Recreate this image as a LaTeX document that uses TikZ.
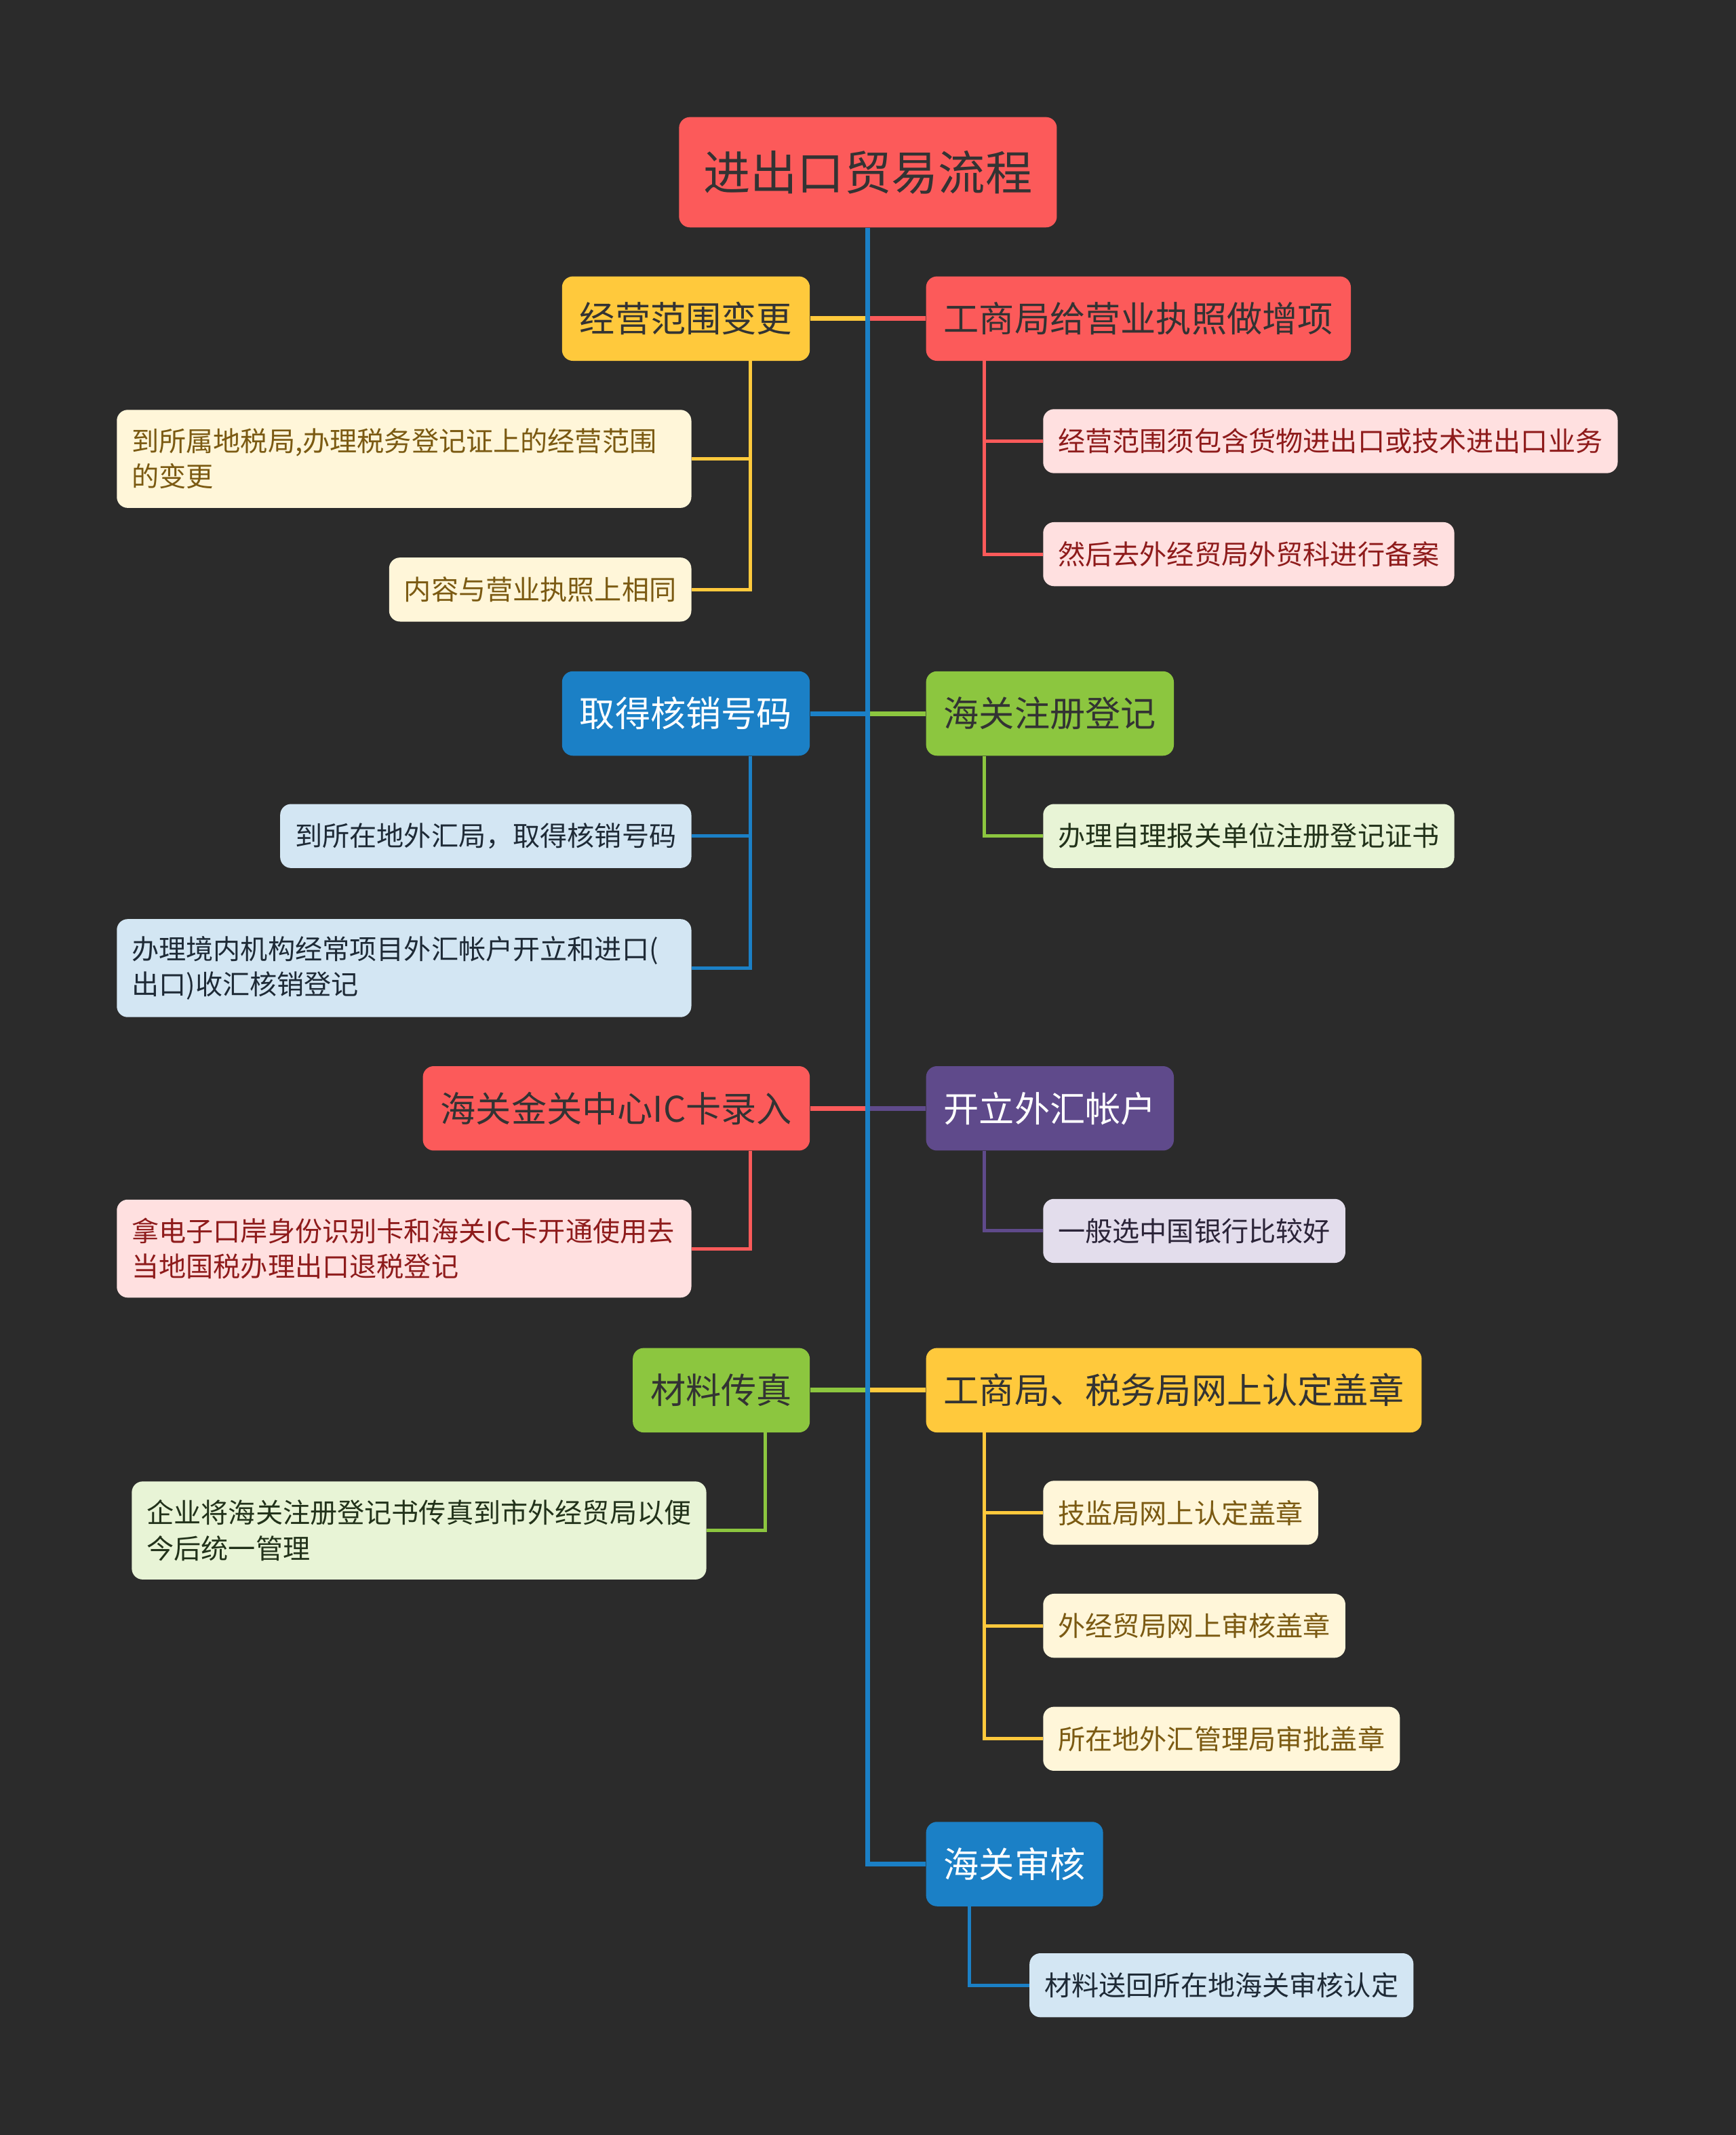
\documentclass[tikz,border=0pt]{standalone}
\usepackage{fontspec}
\setmainfont{Noto Sans CJK SC}
\usepackage{xcolor}
\usetikzlibrary{positioning}
\definecolor{bg}{HTML}{2B2B2B}
\definecolor{ink}{HTML}{333333}
\definecolor{tred}{HTML}{FC5A5A}
\definecolor{tyellow}{HTML}{FFC93C}
\definecolor{tblue}{HTML}{1B80C6}
\definecolor{tgreen}{HTML}{8CC63F}
\definecolor{tpurple}{HTML}{5F4A8B}
\definecolor{lred}{HTML}{FFE0E0}
\definecolor{lyellow}{HTML}{FFF6D9}
\definecolor{lblue}{HTML}{D3E6F3}
\definecolor{lgreen}{HTML}{E8F4D6}
\definecolor{lpurple}{HTML}{E3DDEC}
\definecolor{dred}{HTML}{8E1B1B}
\definecolor{dyellow}{HTML}{7B5A12}
\definecolor{dblue}{HTML}{1E2A36}
\definecolor{dgreen}{HTML}{22321A}
\definecolor{dpurple}{HTML}{2B2438}

\begin{document}
\begin{tikzpicture}[x=1pt, y=-1pt,
  base/.style={rounded corners=8pt, align=left, inner ysep=0pt},
  rootbox/.style={base, fill=tred, text=ink, font=\fontsize{34.5}{40}\selectfont,
                  minimum height=81pt, inner xsep=18pt},
  topic/.style={base, font=\fontsize{26}{30}\selectfont, minimum height=62pt, inner xsep=13pt},
  leaf/.style={base, font=\fontsize{20}{26}\selectfont, minimum height=47pt, inner xsep=11pt},
  wide/.style={leaf, text width=400pt, minimum height=72pt},
  red1/.style={topic, fill=tred, text=ink},
  ylw1/.style={topic, fill=tyellow, text=ink},
  blu1/.style={topic, fill=tblue, text=white},
  grn1/.style={topic, fill=tgreen, text=ink},
  pur1/.style={topic, fill=tpurple, text=white},
  red2/.style={fill=lred, text=dred},
  ylw2/.style={fill=lyellow, text=dyellow},
  blu2/.style={fill=lblue, text=dblue},
  grn2/.style={fill=lgreen, text=dgreen},
  pur2/.style={fill=lpurple, text=dpurple},
  trunk/.style={line width=3.5pt},
  link/.style={line width=2.5pt}
]
\path[use as bounding box, fill=bg] (0,0) rectangle (1275,1568);

% root and main topics
\node[rootbox] (root) at (637.5,126.5) {进出口贸易流程};
\node[ylw1, anchor=east] (jy) at (595,234)  {经营范围变更};
\node[red1, anchor=west] (gs) at (680,234)  {工商局给营业执照做增项};
\node[blu1, anchor=east] (hx) at (595,524)  {取得核销号码};
\node[grn1, anchor=west] (zc) at (680,524)  {海关注册登记};
\node[red1, anchor=east] (ic) at (595,814)  {海关金关中心IC卡录入};
\node[pur1, anchor=west] (wh) at (680,814)  {开立外汇帐户};
\node[grn1, anchor=east] (cz) at (595,1021) {材料传真};
\node[ylw1, anchor=west] (gz) at (680,1021) {工商局、税务局网上认定盖章};
\node[blu1, anchor=west] (sh) at (680,1369) {海关审核};

% details
\node[wide, ylw2, anchor=east] (jy1) at (508,337) {到所属地税局,办理税务登记证上的经营范围\\的变更};
\node[leaf, ylw2, anchor=east] (jy2) at (508,433) {内容与营业执照上相同};
\node[leaf, red2, anchor=west] (gs1) at (766,324) {经营范围须包含货物进出口或技术进出口业务};
\node[leaf, red2, anchor=west] (gs2) at (766,407) {然后去外经贸局外贸科进行备案};
\node[leaf, blu2, anchor=east] (hx1) at (508,614) {到所在地外汇局，取得核销号码};
\node[wide, blu2, anchor=east] (hx2) at (508,711) {办理境内机构经常项目外汇帐户开立和进口(\\出口)收汇核销登记};
\node[leaf, grn2, anchor=west] (zc1) at (766,614) {办理自理报关单位注册登记证书};
\node[wide, red2, anchor=east] (ic1) at (508,917) {拿电子口岸身份识别卡和海关IC卡开通使用去\\当地国税办理出口退税登记};
\node[leaf, pur2, anchor=west] (wh1) at (766,904) {一般选中国银行比较好};
\node[wide, grn2, anchor=east] (cz1) at (519,1124) {企业将海关注册登记书传真到市外经贸局以便\\今后统一管理};
\node[leaf, ylw2, anchor=west] (gz1) at (766,1111) {技监局网上认定盖章};
\node[leaf, ylw2, anchor=west] (gz2) at (766,1194) {外经贸局网上审核盖章};
\node[leaf, ylw2, anchor=west] (gz3) at (766,1277) {所在地外汇管理局审批盖章};
\node[leaf, blu2, anchor=west] (sh1) at (756,1458) {材料送回所在地海关审核认定};

% topic connectors
\draw[trunk, tyellow] (jy.east) -- (jy.east -| root.south);
\draw[trunk, tred]    (gs.west -| root.south) -- (gs.west);
\draw[trunk, tblue]   (hx.east) -- (hx.east -| root.south);
\draw[trunk, tgreen]  (zc.west -| root.south) -- (zc.west);
\draw[trunk, tred]    (ic.east) -- (ic.east -| root.south);
\draw[trunk, tpurple] (wh.west -| root.south) -- (wh.west);
\draw[trunk, tgreen]  (cz.east) -- (cz.east -| root.south);
\draw[trunk, tyellow] (gz.west -| root.south) -- (gz.west);
\draw[trunk, tblue]   (root.south) |- (sh.west);

% detail connectors
\draw[link, tyellow] ([xshift=43pt]jy1.east |- jy.south) |- (jy1.east);
\draw[link, tyellow] ([xshift=43pt]jy2.east |- jy.south) |- (jy2.east);
\draw[link, tred]    ([xshift=-43pt]gs1.west |- gs.south) |- (gs1.west);
\draw[link, tred]    ([xshift=-43pt]gs2.west |- gs.south) |- (gs2.west);
\draw[link, tblue]   ([xshift=43pt]hx1.east |- hx.south) |- (hx1.east);
\draw[link, tblue]   ([xshift=43pt]hx2.east |- hx.south) |- (hx2.east);
\draw[link, tgreen]  ([xshift=-43pt]zc1.west |- zc.south) |- (zc1.west);
\draw[link, tred]    ([xshift=43pt]ic1.east |- ic.south) |- (ic1.east);
\draw[link, tpurple] ([xshift=-43pt]wh1.west |- wh.south) |- (wh1.west);
\draw[link, tgreen]  ([xshift=43pt]cz1.east |- cz.south) |- (cz1.east);
\draw[link, tyellow] ([xshift=-43pt]gz1.west |- gz.south) |- (gz1.west);
\draw[link, tyellow] ([xshift=-43pt]gz2.west |- gz.south) |- (gz2.west);
\draw[link, tyellow] ([xshift=-43pt]gz3.west |- gz.south) |- (gz3.west);
\draw[link, tblue]   ([xshift=-44pt]sh1.west |- sh.south) |- (sh1.west);
\end{tikzpicture}
\end{document}
